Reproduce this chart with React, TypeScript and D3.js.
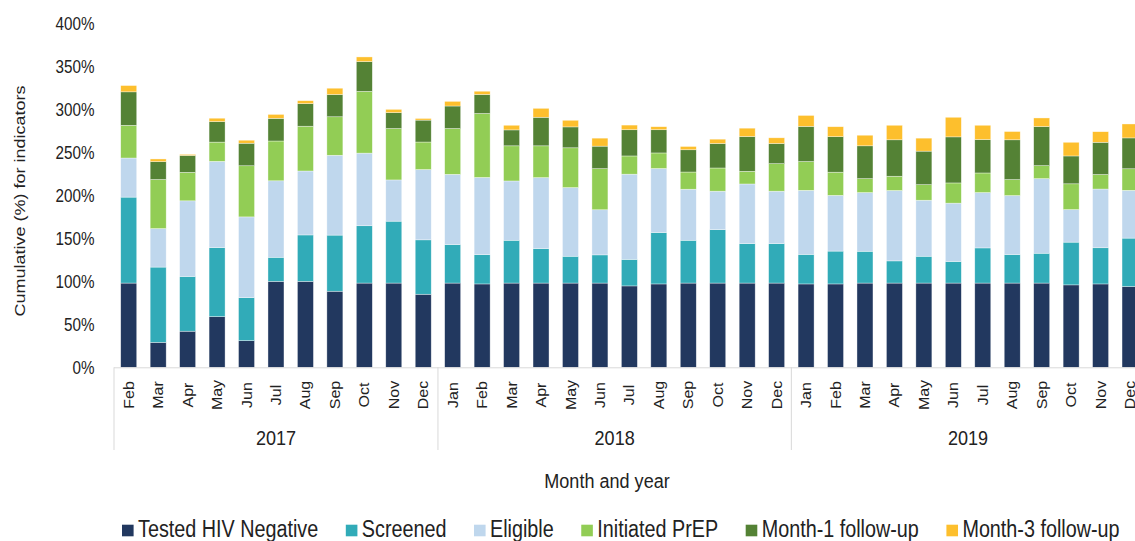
import * as React from "react";
import * as d3 from "d3";

// months Feb 2017 .. Dec 2019
const months = [
  "Feb", "Mar", "Apr", "May", "Jun", "Jul", "Aug", "Sep", "Oct", "Nov", "Dec",
  "Jan", "Feb", "Mar", "Apr", "May", "Jun", "Jul", "Aug", "Sep", "Oct", "Nov", "Dec",
  "Jan", "Feb", "Mar", "Apr", "May", "Jun", "Jul", "Aug", "Sep", "Oct", "Nov", "Dec"
];
const years = ["2017", "2018", "2019"];
const monthsPerYear = [11, 12, 12];

const seriesNames = [
  "Tested HIV Negative",
  "Screened",
  "Eligible",
  "Initiated PrEP",
  "Month-1 follow-up",
  "Month-3 follow-up"
];
const seriesColors = ["#22385f", "#31abb8", "#bfd7ed", "#92cd55", "#548235", "#fdbf2d"];

const tested = [
  98, 29, 42, 59, 31, 100, 100, 88.5, 98, 98, 85,
  98, 97, 98, 98, 98, 98, 94.7, 97, 98, 98, 98, 98,
  97, 97, 98, 98, 98, 98, 98, 98, 98, 95.9, 97, 94
];
const screened = [
  100, 87.6, 63.7, 80.3, 50, 28, 54, 65.3, 66.7, 72, 63.3,
  44.8, 34, 49.8, 40.1, 31.2, 32.8, 30.9, 59.8, 49.8, 62.1, 45.9, 45.9,
  34.4, 38.2, 37, 25.8, 31.2, 25.1, 40.9, 33.2, 34.7, 49.7, 42.1, 56.3
];
const eligible = [
  45.5, 44.8, 88, 100.3, 94, 89, 74.4, 92.9, 84.5, 48, 81.8,
  81.7, 89.9, 69, 82.6, 79.9, 52.5, 99.1, 74.5, 59.4, 44.8, 69.4, 61,
  74.5, 64.8, 68.3, 81.9, 65.2, 67.9, 64.4, 68.6, 86.8, 37.9, 68.3, 55.6
];
const initiated = [
  38, 57.1, 33.1, 22.4, 59.5, 46.3, 52.1, 44.8, 71.8, 59.8, 32,
  53.3, 74.4, 40.9, 37, 46.3, 47.8, 21.2, 18.1, 20, 27, 14.7, 32,
  33.5, 27, 16.2, 16.6, 18.1, 23.5, 22.8, 18.6, 15.1, 30, 16.9, 25.1
];
const month1 = [
  39, 20.8, 19.7, 23.9, 26.2, 26.3, 26.2, 25.9, 34.7, 18.5, 25.5,
  26.2, 22.1, 18.5, 33.2, 24.3, 26.2, 30.5, 27, 25.9, 28.5, 40.5, 23.5,
  40.9, 41.3, 38.2, 42.4, 39, 53.6, 38.9, 46.3, 45.5, 32.4, 37.5, 35.9
];
const month3 = [
  7.3, 3.1, 1.2, 3.9, 3.5, 4.6, 3.5, 7.3, 5.4, 3.8, 1.9,
  5.4, 3.8, 5.4, 10.4, 7.7, 9.3, 5.4, 3.5, 3.8, 5, 9.7, 6.6,
  12.7, 11.6, 12.3, 16.9, 15.1, 22.8, 16.6, 9.6, 10, 15.9, 12.3, 16.2
];
const yTicks = [0, 50, 100, 150, 200, 250, 300, 350, 400];

const seriesValues = [tested, screened, eligible, initiated, month1, month3];

const FONT = "'Liberation Sans', Arial, sans-serif";
const SQ = 0.86; // horizontal squish of the source image
const TEXT = "#222";

const measure = (() => {
  let ctx: CanvasRenderingContext2D | null = null;
  return (txt: string, size: number) => {
    if (!ctx) ctx = document.createElement("canvas").getContext("2d");
    if (!ctx) return txt.length * size * 0.5;
    ctx.font = `${size}px ${FONT}`;
    return ctx.measureText(txt).width;
  };
})();

const App = () => {
  const width = 1135;
  const height = 541;
  const step = 29.45;
  const left = 114;

  const rows = months.map((m, i) => {
    const r: any = { i };
    seriesNames.forEach((s, k) => (r[s] = seriesValues[k][i]));
    return r;
  });
  const stacked = d3.stack<any>().keys(seriesNames)(rows);

  const x = d3
    .scaleBand<number>()
    .domain(d3.range(months.length))
    .range([left, left + step * months.length])
    .paddingInner(0.457)
    .paddingOuter(0.2285);
  const y = d3.scaleLinear().domain([0, 400]).range([367.3, 23.5]);

  const stepW = x.step();
  const x0 = x.range()[0];
  const yearStarts = monthsPerYear.map((_, k) => d3.sum(monthsPerYear.slice(0, k)));

  // legend layout
  const legendSize = 23;
  let lx = 122;
  const legendItems = seriesNames.map((s, k) => {
    const item = { s, color: seriesColors[k], x: lx };
    lx += 16 + measure(s, legendSize) * SQ + 27.5;
    return item;
  });

  return (
    <div style={{ position: "absolute", left: 0, top: 0 }}>
      <svg width={width} height={height} style={{ display: "block", background: "#fff" }} fontFamily={FONT}>
        {/* y tick labels */}
        {yTicks.map(t => (
          <text
            key={t}
            transform={`translate(94.5,${y(t)}) scale(${SQ},1)`}
            textAnchor="end"
            dominantBaseline="central"
            fontSize={17.7}
            fill={TEXT}
          >
            {t}%
          </text>
        ))}
        <text
          transform={`translate(20,201) scale(${SQ},1) rotate(-90)`}
          textAnchor="middle"
          dominantBaseline="central"
          fontSize={18}
          fill={TEXT}
        >
          Cumulative (%) for indicators
        </text>

        {/* bars */}
        {stacked.map((layer, k) => (
          <g key={layer.key} fill={seriesColors[k]}>
            {layer.map((d, i) => (
              <rect
                key={i}
                x={x(i)}
                width={x.bandwidth()}
                y={y(d[1])}
                height={Math.max(0, y(d[0]) - y(d[1]))}
                stroke="#ffffff"
                strokeOpacity={0.6}
                strokeWidth={0.6}
              />
            ))}
          </g>
        ))}

        {/* x axis */}
        <line x1={x0} x2={width} y1={y(0) + 0.5} y2={y(0) + 0.5} stroke="#d9d9d9" strokeWidth={1} />
        {yearStarts.map((s, k) => (
          <line
            key={k}
            x1={x0 + s * stepW}
            x2={x0 + s * stepW}
            y1={y(0)}
            y2={450}
            stroke="#d9d9d9"
            strokeWidth={1}
          />
        ))}
        {months.map((m, i) => (
          <text
            key={i}
            transform={`translate(${(x(i) as number) + x.bandwidth() / 2},395) scale(${SQ},1) rotate(-90)`}
            textAnchor="middle"
            dominantBaseline="central"
            fontSize={16}
            fill={TEXT}
          >
            {m}
          </text>
        ))}
        {years.map((yr, k) => (
          <text
            key={yr}
            transform={`translate(${x0 + (yearStarts[k] + monthsPerYear[k] / 2) * stepW},445) scale(${SQ},1)`}
            textAnchor="middle"
            fontSize={21}
            fill={TEXT}
          >
            {yr}
          </text>
        ))}
        <text transform={`translate(607,488) scale(${SQ},1)`} textAnchor="middle" fontSize={21} fill={TEXT}>
          Month and year
        </text>

        {/* legend */}
        {legendItems.map(it => (
          <g key={it.s}>
            <rect x={it.x} y={524.7} width={11.6} height={11.6} fill={it.color} />
            <text transform={`translate(${it.x + 16},537) scale(${SQ},1)`} fontSize={legendSize} fill={TEXT}>
              {it.s}
            </text>
          </g>
        ))}
      </svg>
    </div>
  );
};

export default App;
